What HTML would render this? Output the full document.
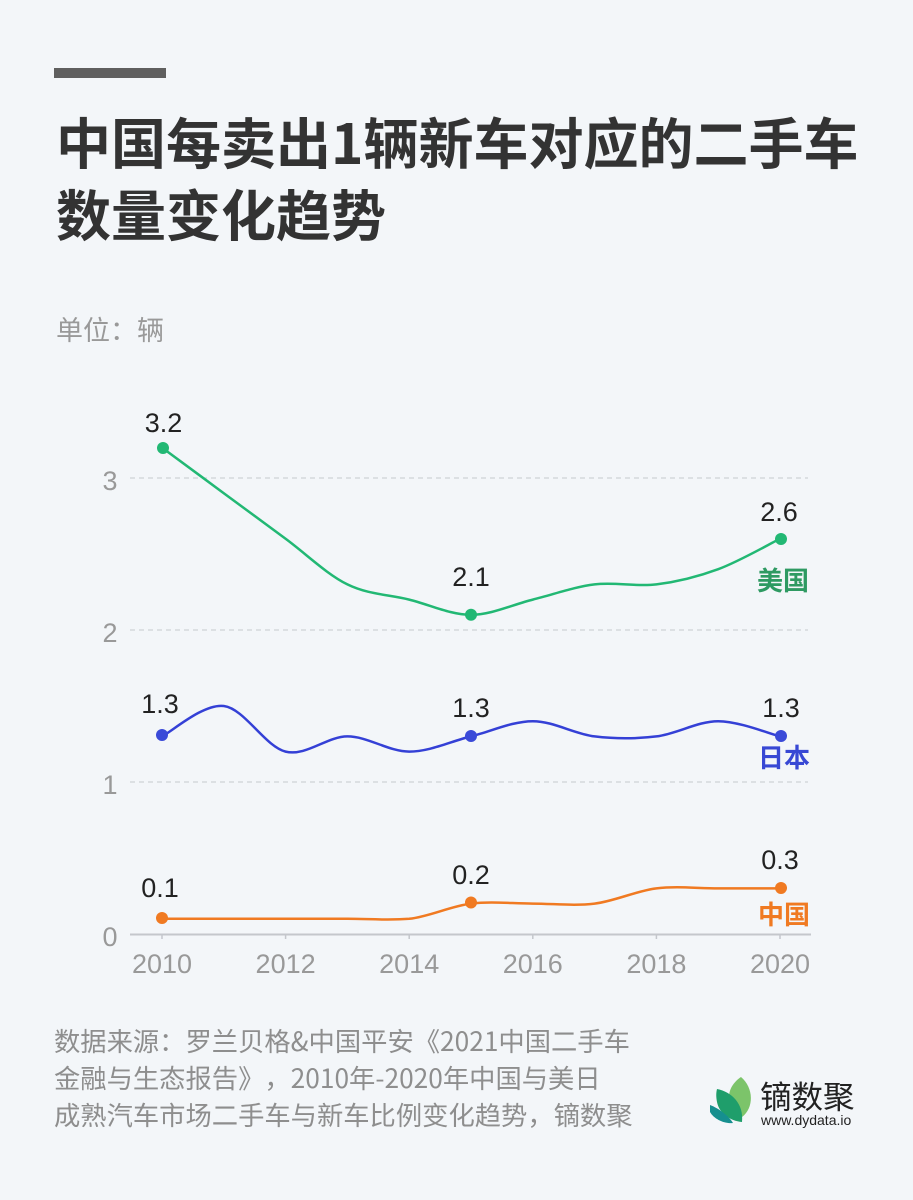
<!DOCTYPE html>
<html><head><meta charset="utf-8">
<style>
html,body{margin:0;padding:0;background:#f3f6f9;}
svg{display:block;}
text{font-family:"Liberation Sans","Noto Sans CJK SC",sans-serif;text-spacing-trim:space-all;}
.cjk{font-family:"Noto Sans CJK SC","WenQuanYi Zen Hei",sans-serif;text-spacing-trim:space-all;}
</style></head>
<body>
<svg width="913" height="1200" viewBox="0 0 913 1200" xmlns="http://www.w3.org/2000/svg">
<rect x="0" y="0" width="913" height="1200" fill="#f3f6f9"/>
<rect x="54" y="68" width="112" height="10" fill="#5f5f5f"/>
<text class="cjk" x="56" y="164" font-size="55" font-weight="bold" fill="#333">中国每卖出1辆新车对应的二手车</text>
<text class="cjk" x="56" y="236" font-size="55" font-weight="bold" fill="#333">数量变化趋势</text>
<text class="cjk" x="56" y="340" font-size="27" fill="#999">单位：辆</text>

<!-- grid -->
<g stroke="#cfd2d6" stroke-width="1.2" stroke-dasharray="5,4">
<line x1="130" y1="478" x2="808" y2="478"/>
<line x1="130" y1="630" x2="808" y2="630"/>
<line x1="130" y1="782" x2="808" y2="782"/>
</g>
<line x1="130" y1="934.5" x2="811" y2="934.5" stroke="#c4c7cc" stroke-width="2"/>
<g stroke="#c4c7cc" stroke-width="1.5">
<line x1="162" y1="934" x2="162" y2="939"/>
<line x1="285.6" y1="934" x2="285.6" y2="939"/>
<line x1="409.2" y1="934" x2="409.2" y2="939"/>
<line x1="532.8" y1="934" x2="532.8" y2="939"/>
<line x1="656.4" y1="934" x2="656.4" y2="939"/>
<line x1="780" y1="934" x2="780" y2="939"/>
</g>
<g font-size="27" fill="#999" text-anchor="middle">
<text x="110" y="490">3</text>
<text x="110" y="642">2</text>
<text x="110" y="794">1</text>
<text x="110" y="946">0</text>
<text x="162" y="973">2010</text>
<text x="285.6" y="973">2012</text>
<text x="409.2" y="973">2014</text>
<text x="532.8" y="973">2016</text>
<text x="656.4" y="973">2018</text>
<text x="780" y="973">2020</text>
</g>

<!-- US -->
<path fill="none" stroke="#22b874" stroke-width="2.5" d="M162,447.6 C172.3,455.2 203.2,478 223.8,493.2 C244.4,508.4 265,523.6 285.6,538.8 C306.2,554 326.8,574.27 347.4,584.4 C368,594.53 388.6,594.53 409.2,599.6 C429.8,604.67 450.4,614.8 471,614.8 C491.6,614.8 512.2,604.67 532.8,599.6 C553.4,594.53 574,586.93 594.6,584.4 C615.2,581.87 635.8,586.93 656.4,584.4 C677,581.87 697.6,576.8 718.2,569.2 C738.8,561.6 769.7,543.87 780,538.8"/>
<g fill="#22b874">
<circle cx="163" cy="448" r="6"/><circle cx="471" cy="614.8" r="6"/><circle cx="781" cy="539" r="6"/>
</g>
<!-- Japan -->
<path fill="none" stroke="#3440d6" stroke-width="2.5" d="M162,736.4 C172.3,731.33 203.2,703.47 223.8,706 C244.4,708.53 265,746.53 285.6,751.6 C306.2,756.67 326.8,736.4 347.4,736.4 C368,736.4 388.6,751.6 409.2,751.6 C429.8,751.6 450.4,741.47 471,736.4 C491.6,731.33 512.2,721.2 532.8,721.2 C553.4,721.2 574,733.87 594.6,736.4 C615.2,738.93 635.8,738.93 656.4,736.4 C677,733.87 697.6,721.2 718.2,721.2 C738.8,721.2 769.7,733.87 780,736.4"/>
<g fill="#3a4ad8">
<circle cx="162" cy="735" r="6"/><circle cx="471" cy="736" r="6"/><circle cx="781" cy="736" r="6"/>
</g>
<!-- China -->
<path fill="none" stroke="#f07a22" stroke-width="2.5" d="M162,918.8 L347.4,918.8 C368,918.8 388.6,920.5 409.2,918.8 C429.8,916.5 450.4,906.13 471,903.6 C491.6,901.07 512.2,903.6 532.8,903.6 C553.4,903.6 574,906.13 594.6,903.6 C615.2,901.07 635.8,890.93 656.4,888.4 C677,885.87 697.6,888.4 718.2,888.4 L780,888.4"/>
<g fill="#f07a22">
<circle cx="162" cy="918" r="6"/><circle cx="471" cy="902.5" r="6"/><circle cx="781" cy="888" r="6"/>
</g>

<!-- value labels -->
<g font-size="27" fill="#222" text-anchor="middle">
<text x="163.5" y="432">3.2</text>
<text x="471" y="586">2.1</text>
<text x="779" y="521">2.6</text>
<text x="160" y="713">1.3</text>
<text x="471" y="717">1.3</text>
<text x="781" y="717">1.3</text>
<text x="160" y="897">0.1</text>
<text x="471" y="884">0.2</text>
<text x="780" y="869">0.3</text>
</g>
<g font-size="26" font-weight="bold" text-anchor="end" class="cjk">
<text class="cjk" x="809" y="590" fill="#2e9a62">美国</text>
<text class="cjk" x="810" y="767" fill="#3848d4">日本</text>
<text class="cjk" x="810" y="924" fill="#f07a22">中国</text>
</g>

<!-- footer -->
<g font-size="26.3" fill="#8e8e8e" class="cjk">
<text class="cjk" x="54" y="1051">数据来源：罗兰贝格&amp;中国平安《2021中国二手车</text>
<text class="cjk" x="54" y="1088">金融与生态报告》，2010年-2020年中国与美日</text>
<text class="cjk" x="54" y="1125">成熟汽车市场二手车与新车比例变化趋势，镝数聚</text>
</g>

<!-- logo -->
<path d="M741,1077 C754,1088 754,1108 742,1117 C736,1114 729,1106 729,1097 C729,1088 735,1081 741,1077 Z" fill="#7cc46a"/>
<path d="M717,1089 C732,1092 744,1104 742,1122 C730,1121 719,1113 717,1102 C716,1097 716,1093 717,1089 Z" fill="#1f9e6b"/>
<path d="M710,1105 C718,1108 728,1115 733,1123 C724,1124 714,1119 710,1112 Z" fill="#168f8f"/>
<text class="cjk" x="760" y="1108" font-size="31.5" fill="#222">镝数聚</text>
<text x="761" y="1125" font-size="14" fill="#222">www.dydata.io</text>
</svg>
</body></html>
